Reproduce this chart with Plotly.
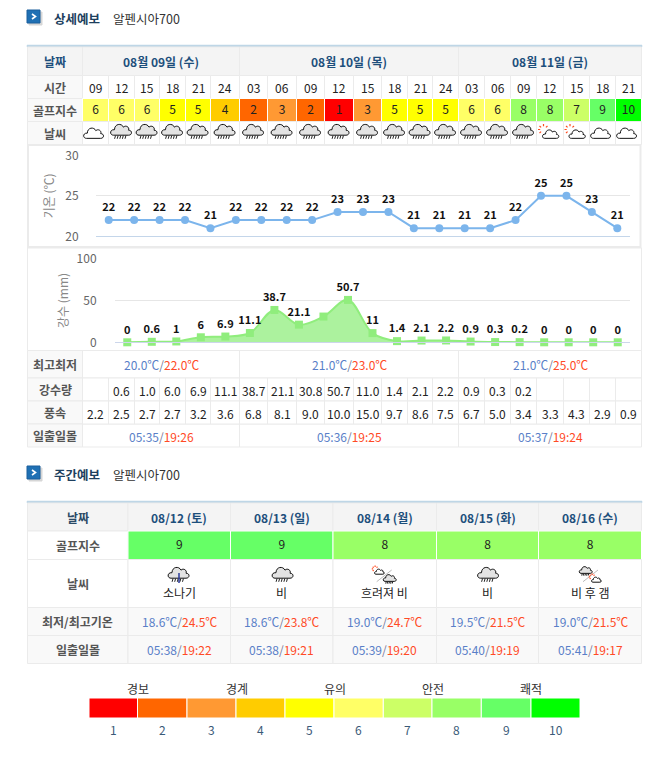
import plotly.graph_objects as go

# ---------- data ----------
hours = ["09","12","15","18","21","24","03","06","09","12","15","18","21","24","03","06","09","12","15","18","21"]
golf = [6,6,6,5,5,4,2,3,2,1,3,5,5,5,6,6,8,8,7,9,10]
sky = ["cloud"]+["rain"]*16+["suncloud","suncloud","cloud","cloud"]
temps = [22,22,22,22,21,22,22,22,22,23,23,23,21,21,21,21,22,25,25,23,21]
rain_vals = [0,0.6,1,6,6.9,11.1,38.7,21.1,30.8,50.7,11,1.4,2.1,2.2,0.9,0.3,0.2,0,0,0,0]
rain_labels = ["0","0.6","1","6","6.9","11.1","38.7","21.1","","50.7","11","1.4","2.1","2.2","0.9","0.3","0.2","0","0","0","0"]
rain_table = ["","0.6","1.0","6.0","6.9","11.1","38.7","21.1","30.8","50.7","11.0","1.4","2.1","2.2","0.9","0.3","0.2","","","",""]
wind = ["2.2","2.5","2.7","2.7","3.2","3.6","6.8","8.1","9.0","10.0","15.0","9.7","8.6","7.5","6.7","5.0","3.4","3.3","4.3","2.9","0.9"]
day_titles = ["08월 09일 (수)","08월 10일 (목)","08월 11일 (금)"]
day_minmax = [("20.0℃","22.0℃"),("21.0℃","23.0℃"),("21.0℃","25.0℃")]
day_sun = [("05:35","19:26"),("05:36","19:25"),("05:37","19:24")]
week_titles = ["08/12 (토)","08/13 (일)","08/14 (월)","08/15 (화)","08/16 (수)"]
week_golf = [9,9,8,8,8]
week_sky = ["소나기","비","흐려져 비","비","비 후 갬"]
week_minmax = [("18.6℃","24.5℃"),("18.6℃","23.8℃"),("19.0℃","24.7℃"),("19.5℃","21.5℃"),("19.0℃","21.5℃")]
week_sun = [("05:38","19:22"),("05:38","19:21"),("05:39","19:20"),("05:40","19:19"),("05:41","19:17")]
scale_names = ["경보","경계","유의","안전","쾌적"]
scale_levels = [1,2,3,4,5,6,7,8,9,10]

# ---------- geometry / style ----------
W, H = 669, 762
FONT = "Noto Sans CJK KR"
GOLF = {1:"#ff0000",2:"#ff6600",3:"#ff9933",4:"#ffcc00",5:"#ffff00",6:"#ffff66",7:"#ccff66",8:"#99ff66",9:"#66ff66",10:"#00ff00"}
COLS = [82.5,108.5,134.5,159.5,185.5,210.5,239.5,267.5,296.5,324.5,353.5,381.5,407.5,432.5,458.5,484.5,510.5,536.5,563.5,589.5,615.5,641.5]
L, R = 27.5, 641.5
BORDER = "#ebebeb"; HEAD = "#f4f4f4"; SIDE = "#f9f9f9"
NAVY = "#1d4f7c"; GREY = "#555555"; BLUE = "#5a7fc8"; RED = "#ff4a26"; TXT = "#222222"
shapes, notes = [], []

def rect(x0,y0,x1,y1,fill="#ffffff",line=BORDER,lw=1):
    shapes.append(dict(type="rect",xref="x",yref="y",x0=x0,y0=y0,x1=x1,y1=y1,fillcolor=fill,
                       line=dict(color=line,width=lw),layer="below"))
def path(d,fill=None,line="#000000",lw=1):
    shapes.append(dict(type="path",xref="x",yref="y",path=d,fillcolor=fill or "rgba(0,0,0,0)",
                       line=dict(color=line,width=lw),layer="below"))
def txt(x,y,s,size=12,color=TXT,bold=False):
    notes.append(dict(xref="x",yref="y",x=x,y=y,text=f"<b>{s}</b>" if bold else s,showarrow=False,
                      xanchor="center",yanchor="middle",font=dict(family=FONT,size=size,color=color)))
def pair(x,y,a,b,size=12):
    txt(x,y,f"<span style='color:{BLUE}'>{a}</span><span style='color:#7a7a9a'>/</span><span style='color:{RED}'>{b}</span>",size)

def cloud(cx,cy,s=1.0,fill="#ffffff",lw=1):
    p=[(-8,3),(-12,3),(-12,-3),(-7,-2.5),(-7,-8.5),(0,-9.5),(2,-5),(4,-7.5),(8.5,-5),(7,-2),(11,-2),(11,3),(7,3)]
    q=[(cx+a*s,cy+b*s) for a,b in p]
    d=f"M {q[0][0]} {q[0][1]} "
    for i in range(1,13,3):
        d+="C "+" ".join(f"{u} {v}" for u,v in q[i:i+3])+" "
    path(d+"Z",fill,"#111111",lw)
def rain_icon(cx,cy,s=1.0):
    cloud(cx,cy-0.8*s,s,"#e3e3e3",1)
    d=""
    for k in (-6,-3.4,-0.8,1.8,4.4):
        d+=f"M {cx+k*s} {cy+2.6*s} L {cx+(k-0.9)*s} {cy+5.8*s} "
    path(d,None,"#222222",1)
def back_sun(cx,cy,color="#aaaaaa",fill="#ffffff",r=3.4):
    path(f"M {cx-r} {cy} A {r} {r} 0 1 1 {cx+r} {cy} A {r} {r} 0 1 1 {cx-r} {cy} Z",fill,color,1)
def cloud_icon(cx,cy,s=1.0):
    back_sun(cx+7*s,cy-2*s,"#aaaaaa","#f0f0f0",3.6*s)
    cloud(cx-1.5*s,cy+2.5*s,s*0.95,"#ffffff",1)
def sun_cloud_icon(cx,cy,s=1.0):
    sx,sy=cx-6.5*s,cy-3.5*s
    d=""
    for a,b in ((-5.5,0),(-4,-3.5),(0,-5.5),(4,-3.5),(-4,3.5)):
        d+=f"M {sx+a*s*0.6} {sy+b*s*0.6} L {sx+a*s} {sy+b*s} "
    path(d,None,"#ff4a1e",1.2)
    back_sun(sx,sy,"#ff4a1e","#ffb347",2.8*s)
    back_sun(cx+7.5*s,cy-1*s,"#aaaaaa","#f0f0f0",2.8*s)
    cloud(cx+1*s,cy+3*s,s*0.78,"#ffffff",1)
def sky_icon(kind,cx,cy):
    {"rain":rain_icon,"cloud":cloud_icon,"suncloud":sun_cloud_icon}[kind](cx,cy)
def slash(x0,y0,x1,y1):
    path(f"M {x0} {y0} L {x1} {y1}",None,"#bbbbbb",1)

def header_icon(y):
    rect(29,y+2,42,y+15,"#d6d6d6","#d6d6d6",1)
    rect(27,y,40,y+13,"#1f70b4","#1a5f9c",1)
    path(f"M 32 {y+4} L 35.5 {y+6.5} L 32 {y+9}",None,"#ffffff",1.6)

# ---------- headers ----------
header_icon(10)
txt(76.5,18,"상세예보",12.5,"#1d3f5e",True)
txt(146,18,"알펜시아700",12.5,"#333333")
header_icon(466)
txt(76.5,474,"주간예보",12.5,"#1d3f5e",True)
txt(146,474,"알펜시아700",12.5,"#333333")

# ---------- daily table ----------
rect(27,45,R+0.5,47,"#bfd6e6","#bfd6e6",0.5)
day_spans = [(COLS[0],COLS[6]),(COLS[6],COLS[14]),(COLS[14],COLS[21])]
for label,y0,y1 in [("날짜",47,75.5),("시간",75.5,98.5),("골프지수",98.5,121.5),("날씨",121.5,144.5),
                    ("최고최저",350.5,378),("강수량",378,401),("풍속",401,424),("일출일몰",424,447)]:
    rect(L,y0,COLS[0],y1,HEAD if label=="날짜" else SIDE)
    txt((L+COLS[0])/2,(y0+y1)/2,label,12,NAVY if label=="날짜" else GREY,True)
for (a,b),t,mm,sun in zip(day_spans,day_titles,day_minmax,day_sun):
    rect(a,47,b,75.5,HEAD)
    txt((a+b)/2,61,t,12,NAVY,True)
    rect(a,350.5,b,378); pair((a+b)/2,364,*mm)
    rect(a,424,b,447); pair((a+b)/2,436,*sun)
centers=[(COLS[i]+COLS[i+1])/2 for i in range(21)]
for i,cx in enumerate(centers):
    a,b=COLS[i],COLS[i+1]
    rect(a,75.5,b,98.5); txt(cx,87,hours[i])
    rect(a,98.5,b,121.5,GOLF[golf[i]],"#ffffff")
    rect(a,121.5,b,144.5)
    sky_icon(sky[i],cx,133)
    rect(a,378,b,401); txt(cx,390.5,rain_table[i])
    rect(a,401,b,424); txt(cx,413,wind[i])
# chart panels
rect(28,145,640.5,247,"#ffffff",BORDER,2)
rect(27.5,248,641.5,350.5,"#ffffff",BORDER,1)

# ---------- weekly table ----------
WC=[128,230.5,333,436.5,538.5,641.5]
rect(27,501,R+0.5,503,"#bfd6e6","#bfd6e6",0.5)
for label,y0,y1,fill in [("날짜",503,531,HEAD),("골프지수",531,559.5,"#ffffff"),("날씨",559.5,607.5,"#ffffff"),
                    ("최저/최고기온",607.5,635.5,SIDE),("일출일몰",635.5,663.5,SIDE)]:
    rect(L,y0,WC[0],y1,fill)
    txt((L+WC[0])/2,(y0+y1)/2,label,12,"#2b4a66" if label=="날짜" else GREY,True)
for j in range(5):
    a,b=WC[j],WC[j+1]; c=(a+b)/2
    rect(a,503,b,531,HEAD); txt(c,517,week_titles[j],12,NAVY,True)
    rect(a,531,b,559.5,GOLF[week_golf[j]],"#ffffff")
    rect(a,559.5,b,607.5); txt(c,592,week_sky[j],12,"#222222")
    rect(a,607.5,b,635.5,SIDE); pair(c,621.5,*week_minmax[j])
    rect(a,635.5,b,663.5,SIDE); pair(c,649.5,*week_sun[j])
# weekly icons
rain_icon(179,576,1.0)
path("M 179 573 L 179 583",None,"#2a3a9a",1.5); back_sun(179,574.5,"#1a2a8c","#1a2a8c",2)
rain_icon(283,576,1.0)
rain_icon(488.5,576,1.0)
sun_cloud_icon(379,571,0.6); slash(376.7,581.7,391.7,570); rain_icon(390,580,0.62)
rain_icon(586,572,0.62); slash(583,581.7,598,570); sun_cloud_icon(596,579,0.6)

# ---------- scale bar ----------
SB=[89,137.5,187,236,285,334,383.3,432,481.3,531,580]
for k,lv in enumerate(scale_levels):
    rect(SB[k],698,SB[k+1],718,GOLF[lv],"#ffffff")
    txt((SB[k]+SB[k+1])/2,729.5,str(lv),12,"#3a5a78")
for name,x in zip(scale_names,[138,236.5,334.5,432.5,531]):
    txt(x,688,name,12,"#333333")

# ---------- figure ----------
fig=go.Figure()
fig.add_trace(go.Scatter(x=centers,y=[110.5]*21,text=[str(g) for g in golf],mode="text",
    textfont=dict(family=FONT,size=12,color="#222222"),xaxis="x",yaxis="y",hoverinfo="skip",showlegend=False))
fig.add_trace(go.Scatter(x=[(WC[j]+WC[j+1])/2 for j in range(5)],y=[545.5]*5,text=[str(g) for g in week_golf],mode="text",
    textfont=dict(family=FONT,size=12,color="#222222"),xaxis="x",yaxis="y",hoverinfo="skip",showlegend=False))
idx=list(range(21))
fig.add_trace(go.Scatter(x=idx,y=temps,text=[str(t) for t in temps],mode="lines+markers+text",textposition="top center",
    line=dict(color="#7cb5ec",width=2),marker=dict(symbol="circle",size=8,color="#7cb5ec"),cliponaxis=False,
    textfont=dict(family=FONT,size=11,color="#111111",weight="bold"),xaxis="x2",yaxis="y2",showlegend=False))
fig.add_trace(go.Scatter(x=idx,y=rain_vals,text=rain_labels,mode="lines+markers+text",textposition="top center",
    line=dict(color="#90ed7d",width=2,shape="spline",smoothing=1),fill="tozeroy",fillcolor="rgba(144,237,125,0.75)",
    marker=dict(symbol="square",size=8,color="#90ed7d"),cliponaxis=False,
    textfont=dict(family=FONT,size=11,color="#111111",weight="bold"),xaxis="x3",yaxis="y3",showlegend=False))

def dom(y_top,y_bot):
    return [1-y_bot/H,1-y_top/H]
tick=dict(family=FONT,size=12,color="#666666")
title=dict(family=FONT,size=12,color="#888888")
fig.update_layout(
    width=W,height=H,autosize=False,margin=dict(l=0,r=0,t=0,b=0),
    paper_bgcolor="#ffffff",plot_bgcolor="rgba(0,0,0,0)",showlegend=False,
    font=dict(family=FONT),shapes=shapes,annotations=notes,
    xaxis=dict(domain=[0,1],range=[0,W],visible=False,fixedrange=True,automargin=False),
    yaxis=dict(domain=[0,1],range=[H,0],visible=False,fixedrange=True,automargin=False),
    xaxis2=dict(domain=[96/W,630/W],range=[-0.5,20.5],anchor="y2",showgrid=False,zeroline=False,showticklabels=False,
                ticks="",showline=True,linecolor="#c4d6ea",linewidth=1,fixedrange=True,automargin=False),
    yaxis2=dict(domain=dom(155.3,236.3),range=[20,30],anchor="x2",tickvals=[20,25,30],showgrid=True,gridcolor="#e6e6e6",
                zeroline=False,ticks="outside",ticklen=14,tickcolor="rgba(0,0,0,0)",tickfont=tick,fixedrange=True,automargin=False,
                title=dict(text="기온 (℃)",font=title,standoff=8)),
    xaxis3=dict(domain=[115/W,630/W],range=[-0.5,20.5],anchor="y3",showgrid=False,zeroline=False,showticklabels=False,
                ticks="",showline=True,linecolor="#ccd6eb",linewidth=1,fixedrange=True,automargin=False),
    yaxis3=dict(domain=dom(258.7,342.3),range=[0,100],anchor="x3",tickvals=[0,50,100],showgrid=True,gridcolor="#e6e6e6",
                zeroline=False,ticks="outside",ticklen=15,tickcolor="rgba(0,0,0,0)",tickfont=tick,fixedrange=True,automargin=False,
                title=dict(text="강수 (mm)",font=title,standoff=5)),
)
fig.write_html("out.html",config=dict(displayModeBar=False),
               post_script="document.body.style.margin='0';document.body.style.overflow='hidden';")
